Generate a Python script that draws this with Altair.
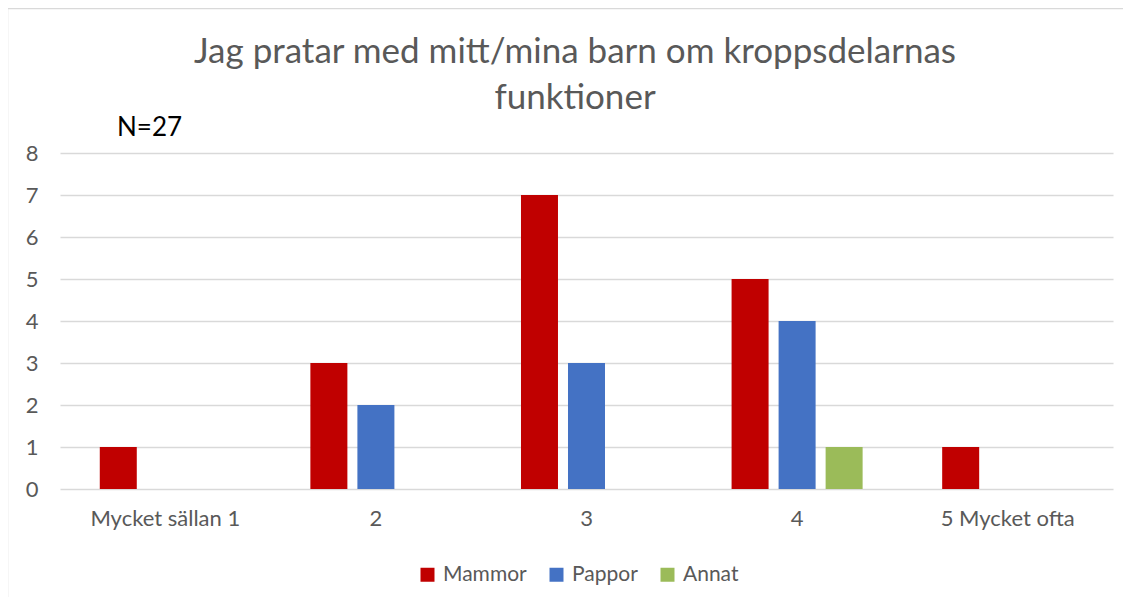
import altair as alt
import pandas as pd

categories = ["Mycket sällan 1", "2", "3", "4", "5 Mycket ofta"]
series = ["Mammor", "Pappor", "Annat"]
mammor = [1, 3, 7, 5, 1]
pappor = [0, 2, 3, 4, 0]
annat = [0, 0, 0, 1, 0]
colors = ["#C00000", "#4472C4", "#9BBB59"]
title_lines = ["Jag pratar med mitt/mina barn om kroppsdelarnas", "funktioner"]
note_text = "N=27"

rows = []
for s, vals in zip(series, [mammor, pappor, annat]):
    for c, v in zip(categories, vals):
        rows.append({"kategori": c, "grupp": s, "antal": v})
df = pd.DataFrame(rows)

FONT = "Lato"
GREY = "#595959"
LBL = 22

bars = alt.Chart(df).mark_bar().encode(
    x=alt.X("kategori:N", sort=categories,
            scale=alt.Scale(paddingInner=0, paddingOuter=0),
            axis=alt.Axis(title=None, labelAngle=0, ticks=False, domain=False,
                          labelPadding=19, labelFontSize=LBL, labelColor=GREY,
                          labelFont=FONT, grid=False)),
    xOffset=alt.XOffset("grupp:N", sort=series,
                        scale=alt.Scale(paddingInner=0.213, paddingOuter=0.846)),
    y=alt.Y("antal:Q", scale=alt.Scale(domain=[0, 8]),
            axis=alt.Axis(title=None, values=list(range(9)), ticks=False, domain=False,
                          labelPadding=22, labelFontSize=LBL, labelColor=GREY,
                          labelFont=FONT, gridColor="#D9D9D9", gridWidth=1.5)),
    color=alt.Color("grupp:N", sort=series,
                    scale=alt.Scale(domain=series, range=colors),
                    legend=alt.Legend(title=None, orient="none", direction="horizontal",
                                      legendX=357, legendY=75 + 336,
                                      symbolType="square", symbolSize=196,
                                      symbolStrokeWidth=0,
                                      labelFontSize=21, labelColor=GREY, labelFont=FONT,
                                      columnPadding=19, labelOffset=5)),
)

note = alt.Chart(pd.DataFrame({"t": [note_text]})).mark_text(
    align="left", baseline="middle", fontSize=26, font=FONT, color="#000000"
).encode(text="t:N", x=alt.value(57), y=alt.value(-25.5))

title = alt.Chart(pd.DataFrame({"t": [title_lines]})).mark_text(
    align="center", baseline="top", fontSize=35, font=FONT, color=GREY,
    lineHeight=46
).encode(text="t", x=alt.value(515), y=alt.value(-118))

top_border = alt.Chart(pd.DataFrame({"a": [0]})).mark_rule(
    color="#D9D9D9", strokeWidth=1.5, clip=False
).encode(x=alt.value(-52), x2=alt.value(1100), y=alt.value(-144.5))
left_border = alt.Chart(pd.DataFrame({"a": [0]})).mark_rule(
    color="#D9D9D9", strokeWidth=1.5, clip=False
).encode(x=alt.value(-52.5), y=alt.value(-145), y2=alt.value(500))

chart = alt.layer(bars, note, title, top_border, left_border).properties(
    width=1053,
    height=336,
    padding={"left": 52, "top": 145, "right": 10, "bottom": 108},
    autosize=alt.AutoSizeParams(type="none"),
).configure_view(stroke=None)

chart.save("out.html", embed_options={"renderer": "svg", "actions": False})
